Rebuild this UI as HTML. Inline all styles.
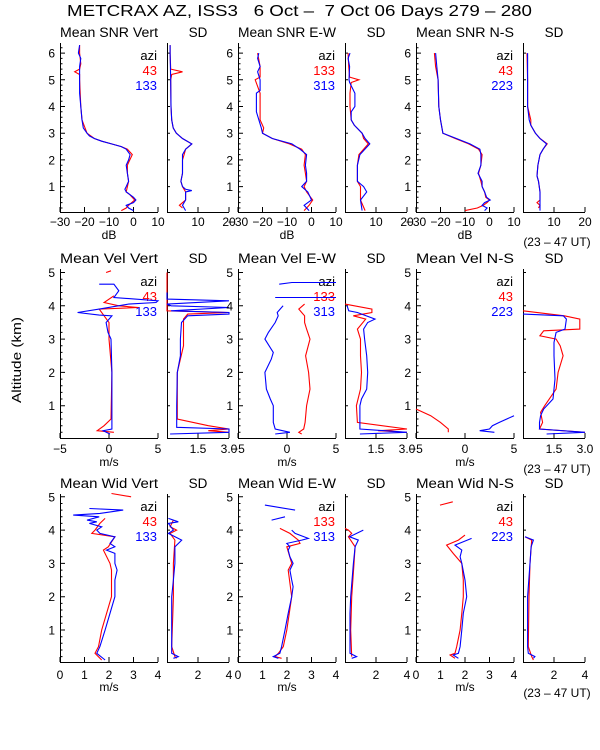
<!DOCTYPE html>
<html><head><meta charset="utf-8"><title>METCRAX AZ ISS3 profiles</title>
<style>
html,body{margin:0;padding:0;background:#fff;}
svg{display:block;font-family:"Liberation Sans",sans-serif;}
</style></head>
<body>
<svg id="chart" width="600" height="750" viewBox="0 0 600 750" xmlns="http://www.w3.org/2000/svg">
<rect x="0" y="0" width="600" height="750" fill="#fff"/>
<text x="67" y="16" font-size="16" style="white-space:pre" xml:space="preserve" textLength="465" lengthAdjust="spacingAndGlyphs">METCRAX AZ, ISS3   6 Oct –  7 Oct 06 Days 279 – 280</text>
<text transform="translate(21,360) rotate(-90)" text-anchor="middle" font-size="13" textLength="86" lengthAdjust="spacingAndGlyphs">Altitude (km)</text>
<g id="plots"></g>
</svg>
<script>
// ===== Row 1: SNR (dB) =====
const snrVertAltB=[0.1,0.2,0.3,0.4,0.5,0.6,0.8,0.9,1.0,1.2,1.5,1.8,2.0,2.2,2.4,2.5,2.6,2.7,2.8,2.9,3.0,3.2,3.5,4.0,4.5,5.0,5.5,5.8,6.0,6.3];
const snrVertB=[0,-2,-3,0,1,0,-3,-3.5,-3,-2,-2.5,-3,-2,-1.4,-3,-5,-9,-13,-16,-18,-19,-20.5,-21,-21.5,-22,-22,-22,-21.5,-22.5,-22];
const snrVertAltR=[0.1,0.2,0.3,0.5,0.7,0.8,1.0,1.2,1.5,1.8,2.0,2.2,2.4,2.5,2.6,2.7,2.8,3.0,3.5,4.0,5.0,5.2,5.3,5.4,5.6,6.0,6.3];
const snrVertR=[-5,-3,-2,0.5,-1.5,-3,-2.5,-2,-2.5,-2.5,-1.5,-0.5,-2.5,-5,-9,-13,-16,-19,-21,-21.5,-22,-22,-24,-22,-21.5,-22,-22];
const snrVertSdAltB=[0.1,0.3,0.5,0.8,0.85,0.9,1.0,1.2,1.5,2.0,2.2,2.4,2.6,2.8,3.0,3.2,3.5,4.0,5.0,6.0,6.3];
const snrVertSdB=[6,5,6,6,8,6,5,4.5,5,5,5,6,8,5,3,2,1.5,1.3,1.2,1,1];
const snrVertSdAltR=[0.2,0.3,0.5,0.8,1.0,1.2,1.5,2.0,2.2,2.4,2.6,2.8,3.0,3.2,3.5,4.0,5.0,5.2,5.3,5.4,6.0,6.3];
const snrVertSdR=[5,4,6,6,5,4.5,5,5,5.5,6,8,5,3,2,1.5,1.3,1.2,1.5,5,1.2,1,1];

const snrEwAltB=[0.1,0.3,0.5,0.8,1.0,1.2,1.5,1.8,2.2,2.4,2.6,2.8,3.0,3.2,3.8,4.5,4.6,5.0,5.3,5.5,5.8,6.0];
const snrEwB=[-1,-3,0,-1.5,-4,-2,-2,-2.5,-2,-4.7,-8,-16,-20,-20.5,-22.5,-22.5,-21,-21,-22,-21,-22,-21.5];
const snrEwAltR=[0.1,0.2,0.3,0.5,0.8,1.0,1.2,1.5,1.8,2.2,2.4,2.6,2.8,3.0,3.2,3.5,4.0,4.5,5.0,5.1,5.5,6.0];
const snrEwR=[-3,-2,-1,0.5,-2,-3,-2,-2.5,-3,-2.5,-4,-9,-16,-20,-19.5,-21,-21,-21,-23,-21,-21,-22];
const snrEwSdAltB=[0.1,0.5,0.8,1.0,1.2,1.8,2.2,2.6,2.8,3.0,3.3,3.5,3.8,4.0,4.5,4.9,5.0,5.5,5.8,6.0];
const snrEwSdB=[5.5,5,7,6,4,4,4.8,8,6.5,5.5,3,2,2,3.2,3.2,1.5,1.3,1.5,1,1.6];
const snrEwSdAltR=[0.1,0.5,0.8,1.0,1.2,1.8,2.2,2.6,2.8,3.0,3.3,3.5,4.0,4.5,4.9,5.0,5.1,5.5,6.0];
const snrEwSdR=[6.5,5,5,5,4,4,4.5,7.5,6,5.5,3,2,1.6,1.6,2,4.5,1.5,1.2,1];

const snrNsAltB=[0.1,0.2,0.3,0.4,0.5,0.6,0.8,1.0,1.2,1.5,1.8,2.2,2.4,2.6,2.8,3.0,3.5,4.0,5.0,5.5,6.0];
const snrNsB=[-2,-1,-3,-2,0.3,-1.2,-2,-3,-3,-4.7,-3.5,-3.5,-3.9,-8,-13.5,-19,-20,-20.7,-21,-21.5,-22];
const snrNsAltR=[0.1,0.2,0.3,0.4,0.5,0.6,0.8,1.0,1.2,1.5,1.8,2.2,2.4,2.6,2.8,3.0,3.5,4.0,5.0,5.5,6.0];
const snrNsR=[-10,-5,-2.5,-1,0,-1.5,-2,-3,-3.5,-4.5,-3.5,-3,-4.5,-8.5,-14,-19,-20,-20.7,-21,-22,-22.5];
const snrNsSdAltB=[0.1,0.3,0.5,0.8,1.2,1.4,1.8,2.2,2.4,2.6,2.8,3.0,3.3,3.5,4.0,5.0,6.0];
const snrNsSdB=[5.5,5.5,5.5,5.5,5,4.5,4.8,5.5,6.5,7.6,5.5,4,2.5,2,1.5,1.5,1.5];
const snrNsSdAltR=[0.2,0.3,0.4,0.5,0.8,1.2,1.4,1.8,2.2,2.4,2.6,2.8,3.0,3.3,3.5,4.0,5.0,6.0];
const snrNsSdR=[5,5.5,4.5,5.5,5.5,5,4.5,4.8,5.5,6.5,7.8,5.5,4,2.5,2.5,1.5,1.5,1.3];

// ===== Row 2: velocity (m/s) =====
const velVertAltB=[0.15,0.25,0.3,0.5,1,2,3.0,3.2,3.5,3.7,3.72,3.8,3.9,4.05,4.1,4.15,4.25,4.45,4.65,4.65];
const velVertB=[0.1,-0.6,0.3,0.3,0.3,0.3,0.2,-0.1,-0.3,0.3,-1,-3.2,-1,2,4.8,5,0.5,1,0.5,-1];
const velVertAltR=[0.2,0.25,0.4,0.6,2,3,3.5,3.7,3.9,3.95,4.0,4.1,4.3,null,5.0,5.05];
const velVertR=[0.5,-1.2,-0.5,0.2,0.3,0,0,-0.5,-1,3,1,-0.5,0.5,null,-0.3,0.2];
const velVertSdAltB=[0.15,0.2,0.3,0.35,1,2,2.5,3,3.5,3.7,3.75,3.8,3.85,3.95,4.0,4.05,4.15,4.2,4.4];
const velVertSdB=[0.15,3,3,0.47,0.47,0.5,0.65,0.65,0.7,1,3,3,0.2,3,0.2,0,3,0,0];
const velVertSdAltR=[0.2,0.25,0.3,0.4,0.6,1,2,2.8,3.6,3.75,3.8,3.85,4.3,5.0];
const velVertSdR=[3,2,3,2,0.5,0.5,0.5,0.8,0.8,1,3,0,0,0];

const velEwAltB=[0.15,0.2,0.3,0.5,1.0,1.2,1.5,2.0,2.4,2.6,3.0,3.2,3.5,3.7,3.8,4.0,null,4.25,4.25,null,4.65,4.7,4.7];
const velEwB=[-1.2,0.3,-1.2,-1.4,-1.4,-1.7,-2.1,-2.25,-1.6,-1.4,-2.25,-1.9,-1.2,-0.9,-1,-0.4,null,-1.2,5,null,-0.8,0.5,5];
const velEwAltR=[0.15,0.2,0.3,0.5,1.0,1.5,2.0,2.5,3.0,3.3,3.5,3.7,3.8,3.9,4.05];
const velEwR=[1.5,1.2,1.7,1.85,2,2.35,2.2,1.9,2.35,2,1.8,1.8,1.5,1.2,1.8];
const velEwSdAltB=[0.15,0.2,0.3,1.0,1.2,1.5,2.0,2.5,3.0,3.3,3.5,3.6,3.8,3.85,4.0];
const velEwSdB=[0.72,3,0.72,0.72,0.8,1.05,1.1,1.05,0.95,0.9,1.1,1.45,0.6,0.18,0.1];
const velEwSdAltR=[0.2,0.25,0.3,0.5,1.0,1.5,2.0,2.5,3.0,3.3,3.6,3.7,3.8,3.9,4.05];
const velEwSdR=[3,1.6,3,0.6,0.55,0.75,0.8,0.75,0.75,0.6,1.0,0.4,1.3,1.3,0];

const velNsAltB=[0.2,0.25,0.3,0.4,0.5,0.7];
const velNsB=[3,1.5,2.5,2.8,3.5,5];
const velNsAltR=[0.2,0.3,0.5,0.7,0.9];
const velNsR=[-1.7,-1.7,-2.5,-3.5,-5];
const velNsSdAltB=[0.15,0.2,0.3,0.5,0.7,0.9,1.2,1.8,2.5,2.9,3.2,3.3,3.6,3.7,3.75];
const velNsSdB=[1.14,3,0.8,0.8,0.85,1.0,1.45,1.55,1.5,1.5,1.6,2.03,2.1,1.95,0];
const velNsSdAltR=[0.2,0.3,0.5,0.8,1.0,1.5,2.0,2.5,2.8,3.0,3.1,3.25,3.3,3.6,3.7,3.85];
const velNsSdR=[3,0.8,0.95,0.85,1.05,1.6,1.7,1.94,1.8,1.6,0.82,1.0,2.75,2.75,2.0,0];

// ===== Row 3: spectral width (m/s) =====
const widVertAltB=[0.1,0.3,0.5,1.0,1.5,2.0,2.5,2.8,3.0,3.3,3.4,3.5,3.6,3.8,3.9,4.0,4.1,4.2,4.25,4.3,4.4,4.45,4.5,4.6,4.65];
const widVertB=[1.84,1.5,1.63,1.84,2.04,2.24,2.24,2.33,2.24,2.24,1.9,2.24,2.04,2.24,1.63,1.5,1.7,1.2,1.5,1.1,1.6,0.54,1.63,2.58,1.2];
const widVertAltR=[0.1,0.3,0.5,1.0,2.0,2.8,3.0,3.4,3.5,3.8,3.9,4.0,4.2,4.35,null,5.0,5.1];
const widVertR=[1.7,1.43,1.57,1.7,2.1,2.1,2.04,1.77,1.97,2.24,1.3,1.43,1.63,1.84,null,2.9,2.1];
const widVertSdAltB=[0.15,0.2,0.3,0.5,2.0,2.5,3.0,3.5,3.7,3.9,4.0,4.2,4.25,4.35];
const widVertSdB=[0.41,0.73,0.3,0.3,0.3,0.41,0.51,0.51,0.95,0.09,0.41,0.09,0.73,0.09];
const widVertSdAltR=[0.15,0.2,0.5,2.0,3.0,3.7,3.9,4.0,4.1,4.3];
const widVertSdR=[0.62,0.51,0.3,0.41,0.41,0.51,0.2,0.62,0.2,0.41];

const widEwAltB=[0.15,0.2,0.3,0.5,1.0,1.5,2.0,2.3,2.5,2.8,3.0,3.2,3.4,3.5,3.6,3.7,3.75,3.9,4.0,null,4.3,4.4,null,4.75,4.6];
const widEwB=[1.65,1.44,1.71,1.78,1.92,2.05,2.19,2.25,2.19,2.12,2.25,2.12,2.05,2.12,1.99,2.6,2.87,2.33,2.19,null,1.37,1.92,null,1.1,2.33];
const widEwAltR=[0.15,0.2,0.3,0.5,1.0,2.0,2.8,3.0,3.5,3.6,3.7,3.9,4.05];
const widEwR=[1.78,1.51,1.65,1.85,1.99,2.19,2.05,2.19,1.99,2.53,2.46,2.12,1.71];
const widEwSdAltB=[0.15,0.2,0.3,1.5,2.0,3.0,3.5,3.7,3.8,4.0];
const widEwSdB=[0.43,0.75,0.32,0.32,0.37,0.54,0.65,0.86,0.3,1.18];
const widEwSdAltR=[0.2,1.0,2.0,3.0,3.5,3.8,3.9,4.0,4.05];
const widEwSdR=[0.43,0.37,0.43,0.58,0.65,0.22,0.43,0.22,0];

const widNsAltB=[0.15,0.25,0.3,0.5,1.0,1.5,2.0,2.5,3.0,3.2,3.4,3.55,3.75];
const widNsB=[1.73,1.52,1.73,1.8,1.87,1.93,2.07,2.0,1.87,1.8,1.87,1.59,2.27];
const widNsAltR=[0.15,0.25,0.3,0.5,1.0,1.5,2.0,2.5,3.0,3.3,3.55,3.7,3.85,null,4.75,4.85];
const widNsR=[1.59,1.39,1.59,1.66,1.8,1.87,1.93,1.93,1.87,1.52,1.25,1.73,2.0,null,0.98,1.5];
const widNsSdAltB=[0.15,0.2,0.3,0.5,2.0,3.0,3.5,3.7,3.8];
const widNsSdB=[0.67,0.77,0.34,0.3,0.3,0.45,0.52,0.67,0.13];
const widNsSdAltR=[0.1,0.2,0.5,2.0,3.0,3.7,3.8];
const widNsSdR=[0.67,0.56,0.34,0.39,0.45,0.56,0.13];

// tick labels
const snrMeanTicks=[-30,-20,-10,0,10];
const snrSdTicks=[10,20];
const velMeanTicks=[-5,0,5];
const velSdTicks=["1.5","3.0"];
const widMeanTicks=[0,1,2,3,4];
const widSdTicks=[2,4];
const row1AltTicks=[1,2,3,4,5,6];
const row23AltTicks=[1,2,3,4,5];
const aziRed=["43","133","43"];
const aziBlue=["133","313","223"];

const NS="http://www.w3.org/2000/svg";
const plots=document.getElementById('plots');
function mk(tag,attrs,parent){const e=document.createElementNS(NS,tag);for(const k in attrs)e.setAttribute(k,attrs[k]);(parent||plots).appendChild(e);return e;}

const rows=[
 {top:43,bottom:212,y0:213.3,k:26.7,altMax:6.35,altTicks:row1AltTicks,unit:"dB",
  mean:{min:-30,max:10,ticks:snrMeanTicks},sd:{min:0,max:20,ticks:snrSdTicks},
  titles:["Mean SNR Vert","Mean SNR E-W","Mean SNR N-S"],
  series:[[snrVertAltR,snrVertR,snrVertAltB,snrVertB,snrVertSdAltR,snrVertSdR,snrVertSdAltB,snrVertSdB],
          [snrEwAltR,snrEwR,snrEwAltB,snrEwB,snrEwSdAltR,snrEwSdR,snrEwSdAltB,snrEwSdB],
          [snrNsAltR,snrNsR,snrNsAltB,snrNsB,snrNsSdAltR,snrNsSdR,snrNsSdAltB,snrNsSdB]],
  legY:[60,75,90],tickY:226,unitY:239,utY:246},
 {top:269,bottom:438,y0:439,k:33.3,altMax:5.1,altTicks:row23AltTicks,unit:"m/s",
  mean:{min:-5,max:5,ticks:velMeanTicks},sd:{min:0,max:3,ticks:velSdTicks},
  titles:["Mean Vel Vert","Mean Vel E-W","Mean Vel N-S"],
  series:[[velVertAltR,velVertR,velVertAltB,velVertB,velVertSdAltR,velVertSdR,velVertSdAltB,velVertSdB],
          [velEwAltR,velEwR,velEwAltB,velEwB,velEwSdAltR,velEwSdR,velEwSdAltB,velEwSdB],
          [velNsAltR,velNsR,velNsAltB,velNsB,velNsSdAltR,velNsSdR,velNsSdAltB,velNsSdB]],
  legY:[286,301,316],tickY:453,unitY:466,utY:473},
 {top:494,bottom:662,y0:663.3,k:33.3,altMax:5.05,altTicks:row23AltTicks,unit:"m/s",
  mean:{min:0,max:4,ticks:widMeanTicks},sd:{min:0,max:4,ticks:widSdTicks},
  titles:["Mean Wid Vert","Mean Wid E-W","Mean Wid N-S"],
  series:[[widVertAltR,widVertR,widVertAltB,widVertB,widVertSdAltR,widVertSdR,widVertSdAltB,widVertSdB],
          [widEwAltR,widEwR,widEwAltB,widEwB,widEwSdAltR,widEwSdR,widEwSdAltB,widEwSdB],
          [widNsAltR,widNsR,widNsAltB,widNsB,widNsSdAltR,widNsSdR,widNsSdAltB,widNsSdB]],
  legY:[511,526,541],tickY:679,unitY:691,utY:697}
];
const meanLeft=[60,238,416], meanW=98, sdOff=107, sdW=62;

function drawLine(alts,vals,xf,yf,color,name){
  let d="",pen=false;
  for(let i=0;i<alts.length;i++){
    if(alts[i]===null||vals[i]===null){pen=false;continue;}
    d+=(pen?"L":"M")+xf(vals[i]).toFixed(1)+","+yf(alts[i]).toFixed(1);pen=true;
  }
  const p=mk('path',{d:d,fill:"none",stroke:color,"stroke-width":1.1});
  
  
}

rows.forEach((r,ri)=>{
  const yf=a=>r.y0-a*r.k;
  for(let c=0;c<3;c++){
    const s=r.series[c];
    const L=meanLeft[c], R=L+meanW;
    const g=mk('g',{});
    
    
    const xm=v=>L+(v-r.mean.min)/(r.mean.max-r.mean.min)*meanW;
    const ax=mk('path',{d:`M${L+0.5},${r.top}V${r.bottom+0.5}H${R}`,fill:"none",stroke:"#000","stroke-width":1},g);
    
    
    let td="";
    for(let a=0.2;a<r.altMax;a+=0.2){const y=yf(a).toFixed(1);const major=Math.abs(a-Math.round(a))<0.01;td+=`M${L},${y}h${major?5:2.5}`;}
    r.mean.ticks.forEach(v=>{td+=`M${xm(v).toFixed(1)},${r.bottom}v-5`;});
    mk('path',{d:td,stroke:"#000","stroke-width":1,fill:"none"},g);
    r.altTicks.forEach(a=>{
      const t=mk('text',{x:L-5,y:yf(a)+4.5,"font-size":12,"text-anchor":"end"},g);t.textContent=a;
      
      
    });
    r.mean.ticks.forEach(v=>{
      const t=mk('text',{x:xm(v),y:r.tickY,"font-size":12,"text-anchor":"middle"},g);t.textContent=String(v).replace('-','−');
      
      
    });
    const u=mk('text',{x:L+meanW/2,y:r.unitY,"font-size":12,"text-anchor":"middle"},g);u.textContent=r.unit;
    
    
    const tt=mk('text',{x:L,y:r.top-6,"font-size":13.5,textLength:meanW,lengthAdjust:"spacingAndGlyphs"},g);tt.textContent=r.titles[c];
    
    
    const lg=[["azi","#000"],[aziRed[c],"#f00"],[aziBlue[c],"#00f"]];
    lg.forEach((e,i)=>{
      const t=mk('text',{x:R-1,y:r.legY[i],"font-size":13,"text-anchor":"end",fill:e[1]},g);t.textContent=e[0];
      
      
    });
    drawLine(s[0],s[1],xm,yf,"#f00","mean-series-red");
    drawLine(s[2],s[3],xm,yf,"#00f","mean-series-blue");
    const SL=L+sdOff, SR=SL+sdW;
    const xs=v=>SL+(v-r.sd.min)/(r.sd.max-r.sd.min)*sdW;
    const ax2=mk('path',{d:`M${SL+0.5},${r.top}V${r.bottom+0.5}H${SR}`,fill:"none",stroke:"#000","stroke-width":1},g);
    
    
    let sd="";
    r.altTicks.forEach(a=>{sd+=`M${SL},${yf(a).toFixed(1)}h3`;});
    r.sd.ticks.forEach(v=>{sd+=`M${xs(+v).toFixed(1)},${r.bottom}v-5`;});
    mk('path',{d:sd,stroke:"#000","stroke-width":1,fill:"none"},g);
    r.sd.ticks.forEach(v=>{
      const t=mk('text',{x:xs(+v),y:r.tickY,"font-size":12,"text-anchor":"middle"},g);t.textContent=v;
      
      
    });
    const st=mk('text',{x:SL+sdW/2,y:r.top-6,"font-size":13.5,"text-anchor":"middle"},g);st.textContent="SD";
    
    
    drawLine(s[4],s[5],xs,yf,"#f00","sd-series-red");
    drawLine(s[6],s[7],xs,yf,"#00f","sd-series-blue");
  }
  const ut=mk('text',{x:557,y:r.utY,"font-size":12,"text-anchor":"middle"});ut.textContent="(23 – 47 UT)";
  
  
});
</script>
</body></html>
